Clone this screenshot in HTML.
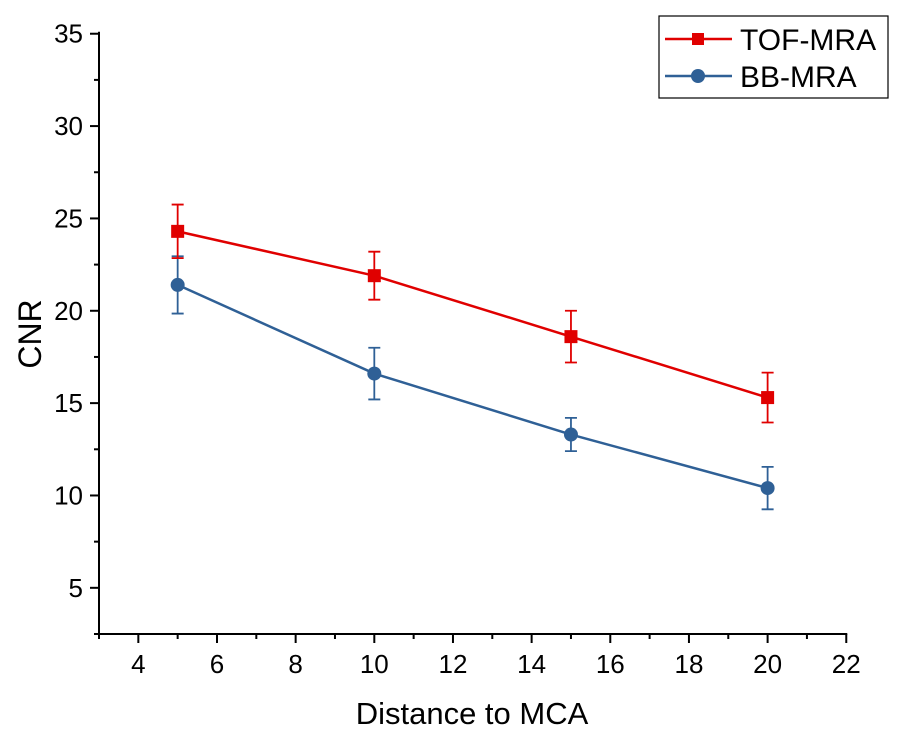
<!DOCTYPE html>
<html><head><meta charset="utf-8"><style>body{margin:0;background:#fff}svg{display:block;font-family:"Liberation Sans",Arial,sans-serif}</style></head>
<body>
<svg id="chart" width="907" height="737"></svg>
<script>
const xTicks=[4,6,8,10,12,14,16,18,20,22];
const yTicks=[5,10,15,20,25,30,35];
const distances=[5,10,15,20];
const tofValues=[24.3,21.9,18.6,15.3];
const tofErrors=[1.45,1.3,1.4,1.35];
const bbValues=[21.4,16.6,13.3,10.4];
const bbErrors=[1.55,1.4,0.9,1.15];
const NS='http://www.w3.org/2000/svg';
const svg=document.getElementById('chart');
const X0=99,Y0=634;
function xs(v){return X0+(v-3)*39.33;}
function ys(v){return Y0-(v-2.5)*18.47;}
function el(t,a,p){const e=document.createElementNS(NS,t);for(const k in a)e.setAttribute(k,a[k]);(p||svg).appendChild(e);return e;}
const axes=el('g',{});


el('line',{x1:X0,y1:ys(35)-2,x2:X0,y2:Y0+1,stroke:'#000','stroke-width':2},axes);
el('line',{x1:X0-1,y1:Y0,x2:xs(22)+1,y2:Y0,stroke:'#000','stroke-width':2},axes);
for(let v=3;v<=22;v+=1){const major=xTicks.includes(v);el('line',{x1:xs(v),y1:Y0,x2:xs(v),y2:Y0+(major?9:5),stroke:'#000','stroke-width':2},axes);}
xTicks.forEach(v=>{const t=el('text',{x:xs(v),y:Y0+39,'font-size':26,'text-anchor':'middle'},axes);t.textContent=v;});
for(let v=2.5;v<=35;v+=2.5){const major=yTicks.includes(v);el('line',{x1:X0,y1:ys(v),x2:X0-(major?9:5),y2:ys(v),stroke:'#000','stroke-width':2},axes);}
yTicks.forEach(v=>{const t=el('text',{x:X0-16,y:ys(v)+9,'font-size':26,'text-anchor':'end'},axes);t.textContent=v;});
const xt=el('text',{x:472,y:724,'font-size':31,'text-anchor':'middle'});xt.textContent='Distance to MCA';


const yt=el('text',{x:0,y:0,'font-size':32,'text-anchor':'middle',transform:'translate(41,334) rotate(-90)'});yt.textContent='CNR';


function series(vals,errs,color,marker,name){
  const g=el('g',{});
  
  
  el('polyline',{points:distances.map((d,i)=>xs(d)+','+ys(vals[i])).join(' '),fill:'none',stroke:color,'stroke-width':2.5},g);
  distances.forEach((d,i)=>{
    const x=xs(d),t=ys(vals[i]+errs[i]),b=ys(vals[i]-errs[i]);
    const eb=el('path',{d:`M${x},${t}V${b}M${x-6},${t}H${x+6}M${x-6},${b}H${x+6}`,stroke:color,'stroke-width':1.8,fill:'none'},g);
    
    
    let m;
    if(marker==='square')m=el('rect',{x:x-6.5,y:ys(vals[i])-6.5,width:13,height:13,fill:color},g);
    else m=el('circle',{cx:x,cy:ys(vals[i]),r:7,fill:color},g);
    
    
  });
}
series(bbValues,bbErrors,'#2f6096','circle','bb-mra-series');
series(tofValues,tofErrors,'#e00000','square','tof-mra-series');
const lg=el('g',{});


el('rect',{x:659,y:16,width:229,height:82,fill:'#fff',stroke:'#000','stroke-width':1.2},lg);
el('line',{x1:665,y1:39,x2:732,y2:39,stroke:'#e00000','stroke-width':2.5},lg);
el('rect',{x:692,y:33,width:12,height:12,fill:'#e00000'},lg);
const l1=el('text',{x:740,y:50,'font-size':30},lg);l1.textContent='TOF-MRA';


el('line',{x1:665,y1:76,x2:732,y2:76,stroke:'#2f6096','stroke-width':2.5},lg);
el('circle',{cx:698,cy:76,r:7,fill:'#2f6096'},lg);
const l2=el('text',{x:740,y:87,'font-size':30},lg);l2.textContent='BB-MRA';


</script>
</body></html>
